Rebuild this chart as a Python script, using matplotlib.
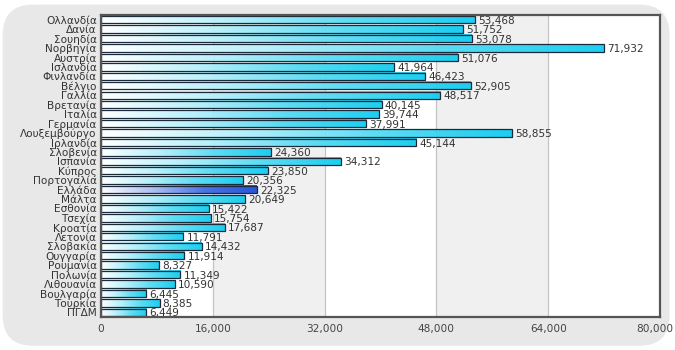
import numpy as np
import matplotlib
matplotlib.use("Agg")
import matplotlib.pyplot as plt
import matplotlib.transforms as mtransforms
from matplotlib.colors import LinearSegmentedColormap
from matplotlib.patches import Rectangle, FancyBboxPatch

countries = ["Ολλανδία", "Δανία", "Σουηδία", "Νορβηγία", "Αυστρία", "Ισλανδία",
             "Φινλανδία", "Βέλγιο", "Γαλλία", "Βρετανία", "Ιταλία", "Γερμανία",
             "Λουξεμβούργο", "Ιρλανδία", "Σλοβενία", "Ισπανία", "Κύπρος",
             "Πορτογαλία", "Ελλάδα", "Μάλτα", "Εσθονία", "Τσεχία", "Κροατία",
             "Λετονία", "Σλοβακία", "Ουγγαρία", "Ρουμανία", "Πολωνία",
             "Λιθουανία", "Βουλγαρία", "Τουρκία", "ΠΓΔΜ"]
values = [53468, 51752, 53078, 71932, 51076, 41964, 46423, 52905, 48517, 40145,
          39744, 37991, 58855, 45144, 24360, 34312, 23850, 20356, 22325, 20649,
          15422, 15754, 17687, 11791, 14432, 11914, 8327, 11349, 10590, 6445,
          8385, 6449]
highlight = "Ελλάδα"
x_ticks = [0, 16000, 32000, 48000, 64000, 80000]
x_ticklabels = ["0", "16,000", "32,000", "48,000", "64,000", "80,000"]

plt.rcParams['font.family'] = ['DejaVu Sans']
FS = 7.6

fig = plt.figure(figsize=(6.75, 3.5), dpi=100)
fig.patch.set_facecolor("white")
bg = FancyBboxPatch((0.004, 0.012), 0.988, 0.975, boxstyle="round,pad=0,rounding_size=0.045",
                    transform=fig.transFigure, facecolor="#e8e8e8", edgecolor="none",
                    zorder=-10, mutation_aspect=675/350)
fig.patches.append(bg)

ax = fig.add_axes([101/675, 1 - 317/350, (660 - 101)/675, (317 - 15)/350])
ax.set_zorder(1)
ax.set_facecolor("white")
n = len(countries)

# alternating bands
for i in range(len(x_ticks) - 1):
    if i % 2 == 1:
        ax.axvspan(x_ticks[i], x_ticks[i + 1], color="#f0f0f0", zorder=0, lw=0)
for t in x_ticks[1:-1]:
    ax.axvline(t, color="#c4c4c4", lw=0.9, zorder=0.5)

cyan = LinearSegmentedColormap.from_list("cy", ["#ffffff", "#b5f0fb", "#55dbf4", "#10cdf0"])
blue = LinearSegmentedColormap.from_list("bl", ["#ffffff", "#a9bcf2", "#3f6ce4", "#1e4ed9"])
grad = np.linspace(0, 1, 256).reshape(1, -1)
h = 0.78
for i, (c, v) in enumerate(zip(countries, values)):
    cm = blue if c == highlight else cyan
    ax.imshow(grad, cmap=cm, extent=[0, v, i + h / 2, i - h / 2], aspect="auto",
              interpolation="bilinear", zorder=2, alpha=0.95)
    ax.add_patch(Rectangle((0, i - h / 2), v, h, fill=False, edgecolor="#1a2a3a",
                           lw=0.9, zorder=3))
    ax.text(v + 450, i + 0.12, f"{v:,}", fontsize=FS, color="#333333",
            va="center", ha="left", zorder=4)

ax.set_xlim(0, 80000)
ax.set_ylim(n - 0.5, -0.5)
ax.set_yticks(range(n))
ax.set_yticklabels(countries, fontsize=FS, color="#333333")
ax.set_xticks(x_ticks)
ax.set_xticklabels(x_ticklabels, fontsize=FS, color="#444444")
ax.tick_params(length=0, pad=3)
ax.tick_params(axis="x", pad=5)
last = ax.get_xticklabels()[-1]
last.set_transform(last.get_transform() +
                   mtransforms.ScaledTranslation(-5 / 100, 0, fig.dpi_scale_trans))
for s in ax.spines.values():
    s.set_color("#555555")
    s.set_linewidth(1.6)
    s.set_zorder(5)

fig.savefig("out.png", dpi=100)
